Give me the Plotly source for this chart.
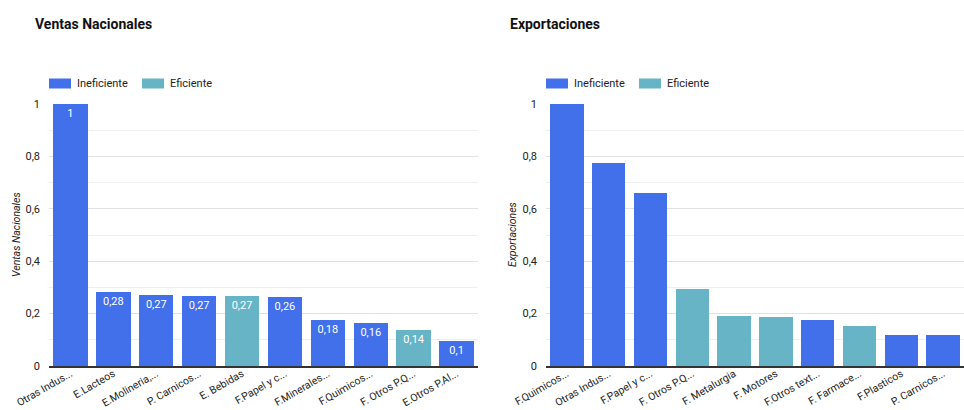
import plotly.graph_objects as go

# --- data -------------------------------------------------------------
ventas_cats = ["Otras Indus...", "E.Lacteos", "E.Molineria,...", "P. Carnicos...",
               "E. Bebidas", "F.Papel y c...", "F.Minerales...", "F.Quimicos...",
               "F. Otros P.Q...", "E.Otros P.Al..."]
ventas_vals = [1.0, 0.282, 0.27, 0.267, 0.267, 0.262, 0.176, 0.163, 0.137, 0.096]
ventas_eficiente = [False, False, False, False, True, False, False, False, True, False]

export_cats = ["F.Quimicos...", "Otras Indus...", "F.Papel y c...", "F. Otros P.Q...",
               "F. Metalurgia", "F. Motores", "F.Otros text...", "F. Farmace...",
               "F.Plasticos", "P. Carnicos..."]
export_vals = [1.0, 0.775, 0.66, 0.295, 0.192, 0.188, 0.174, 0.154, 0.119, 0.119]
export_eficiente = [False, False, False, True, True, True, False, True, False, False]

series_names = ["Ineficiente", "Eficiente"]
y_ticks = [0, 0.2, 0.4, 0.6, 0.8, 1]

BLUE = "#4170EA"
TEAL = "#67B4C7"
FONT = "Roboto, Arial, sans-serif"
W, H = 964, 410


def px_x(p):
    return p / W


def px_y(p):
    return 1 - p / H


def split(vals, flags, want):
    return [v if f == want else None for v, f in zip(vals, flags)]


fig = go.Figure()

# left: national sales (with data labels)
for name, want, col in [("Ineficiente", False, BLUE), ("Eficiente", True, TEAL)]:
    fig.add_trace(go.Bar(
        x=ventas_cats, y=split(ventas_vals, ventas_eficiente, want),
        name=name, marker=dict(color=col, line=dict(width=0)),
        texttemplate="%{y:.2~f}", textposition="inside", insidetextanchor="end",
        textangle=0, textfont=dict(color="white", size=11, family=FONT),
        constraintext="none", cliponaxis=False,
        xaxis="x", yaxis="y", showlegend=False,
    ))

# right: exports
for name, want, col in [("Ineficiente", False, BLUE), ("Eficiente", True, TEAL)]:
    fig.add_trace(go.Bar(
        x=export_cats, y=split(export_vals, export_eficiente, want),
        name=name, marker=dict(color=col, line=dict(width=0)),
        xaxis="x2", yaxis="y2", showlegend=False,
    ))

y_dom = [px_y(366), px_y(104)]

yaxis_common = dict(
    range=[0, 1], tickvals=y_ticks, ticktext=[("%g" % t).replace(".", ",") for t in y_ticks],
    showgrid=True, gridcolor="#e2e2e2", gridwidth=1, zeroline=False,
    minor=dict(dtick=0.1, tick0=0, showgrid=True, gridcolor="#efefef", gridwidth=1),
    tickfont=dict(size=11, color="#222", family=FONT), ticks="", ticklen=0, domain=y_dom,
    showline=False, fixedrange=True, automargin=False, ticklabelstandoff=8,
)
xaxis_common = dict(
    tickangle=-30, tickfont=dict(size=10.5, color="#222", family=FONT),
    showline=True, linecolor="#333", linewidth=1.5, showgrid=False, ticks="", ticklen=0,
    type="category", automargin=False, ticklabelstandoff=-4,
)

fig.update_layout(
    width=W, height=H, margin=dict(l=0, r=0, t=0, b=0),
    paper_bgcolor="white", plot_bgcolor="white",
    barmode="stack", bargap=0.2, separators=", ",
    font=dict(family=FONT, color="#222"),
    xaxis=dict(domain=[px_x(49), px_x(478)], anchor="y", **xaxis_common),
    yaxis=dict(anchor="x", **yaxis_common),
    xaxis2=dict(domain=[px_x(546), 1.0], anchor="y2", **xaxis_common),
    yaxis2=dict(anchor="x2", **yaxis_common),
)

annotations = []
shapes = []
panels = [
    ("Ventas Nacionales", 33, 49, 17),
    ("Exportaciones", 508, 546, 513),
]
for title, tx, lx, ax_x in panels:
    # panel title
    annotations.append(dict(
        text="<b>%s</b>" % title, x=px_x(tx), y=px_y(24), xref="paper", yref="paper",
        xanchor="left", yanchor="middle", showarrow=False,
        font=dict(size=14, color="#111", family=FONT)))
    # y axis title
    annotations.append(dict(
        text="<i>%s</i>" % title, x=px_x(ax_x), y=px_y(235), xref="paper", yref="paper",
        xanchor="center", yanchor="middle", showarrow=False, textangle=-90,
        font=dict(size=10.5, color="#222", family=FONT)))
    # legend swatches and labels
    for i, (name, col) in enumerate(zip(series_names, [BLUE, TEAL])):
        sx = lx + i * 93
        shapes.append(dict(
            type="rect", xref="paper", yref="paper",
            x0=px_x(sx), x1=px_x(sx + 22), y0=px_y(88.5), y1=px_y(78.5),
            fillcolor=col, line=dict(width=0)))
        annotations.append(dict(
            text=name, x=px_x(sx + 26), y=px_y(83.5), xref="paper", yref="paper",
            xanchor="left", yanchor="middle", showarrow=False,
            font=dict(size=11, color="#222", family=FONT)))

fig.update_layout(annotations=annotations, shapes=shapes)

fig.write_html("out.html")
